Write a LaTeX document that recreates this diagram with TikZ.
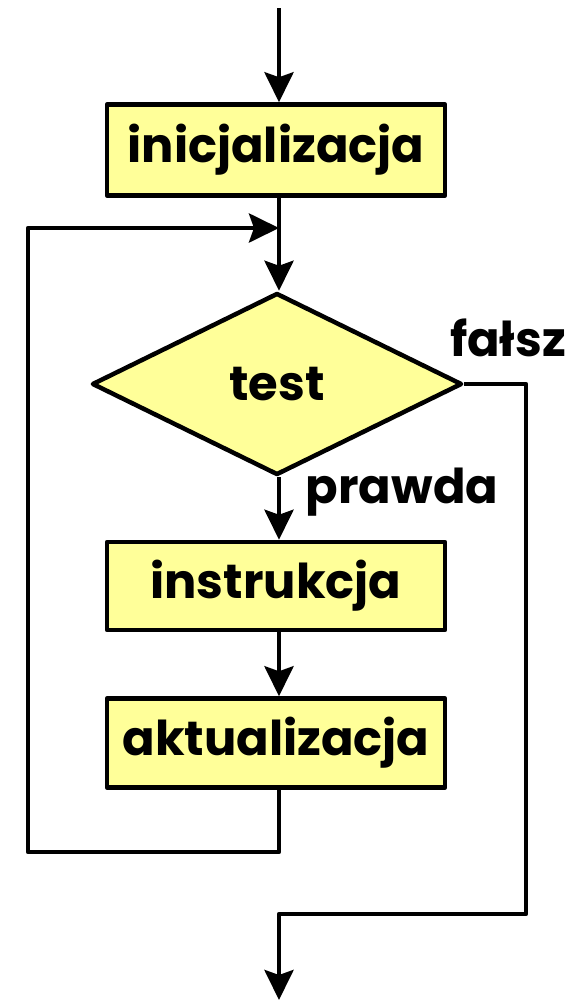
\documentclass[tikz,border=0pt]{standalone}
\usepackage{fontspec}
\setmainfont{Poppins}
\usetikzlibrary{arrows.meta, shapes.geometric}
\definecolor{boxfill}{RGB}{255,255,153}

\begin{document}
\begin{tikzpicture}[x=1pt, y=-1pt, >={Stealth[length=30pt, width=29pt, inset=5pt]}, line width=4.5pt, line join=round]
				\tikzstyle{block} = [draw=black, fill=boxfill, rectangle, minimum width=338pt, inner sep=0pt, font=\fontsize{48}{50}\selectfont\bfseries]
				\tikzstyle{decision} = [draw=black, fill=boxfill, diamond, aspect=2, minimum width=370pt, minimum height=182pt, inner sep=0pt, font=\fontsize{48}{50}\selectfont\bfseries]
				\tikzstyle{invis} = [draw=none, font=\fontsize{48}{50}\selectfont\bfseries]
				
				\useasboundingbox (0,0) rectangle (586,1005);
				
				\coordinate						(start)		at (279, 8);
				\node[block, minimum height=91pt]	at (276, 150)	(init)		{inicjalizacja};
				\coordinate						(merge)		at (279, 228);
				\node[decision]					at (277, 384)	(test)		{test};
				\node[block, minimum height=88pt]	at (276, 586)	(instr)		{instrukcja};
				\node[block, minimum height=89pt]	at (276, 743)	(aktual)	{aktualizacja};
				\coordinate						(loopL)		at (28, 852);
				\coordinate						(falseR)	at (526, 914);
				\coordinate						(stop)		at (279, 1000);
				\node[invis]					at (508, 338)	(falsz)		{fałsz};
				\node[invis]					at (402, 492)	(prawda)	{prawda};
				
				\draw[->] (start) -- (start |- init.north);
				\draw[->] (init.south -| merge) -- (merge |- test.north);
				\draw[->] (test.south -| merge) -- (merge |- instr.north);
				\draw[->] (instr.south -| merge) -- (merge |- aktual.north);
				\draw[->] (aktual.south -| merge) |- (loopL) |- (merge);
				\draw[->] (test.east) -| (falseR) -| (stop);
			\end{tikzpicture}
\end{document}
